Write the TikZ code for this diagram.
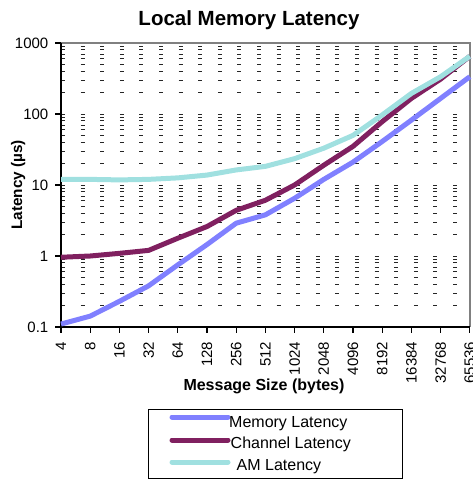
\documentclass[tikz,border=0pt]{standalone}
\usepackage{fontspec}
\setmainfont{Liberation Sans}
\definecolor{memblue}{HTML}{8080FF}
\definecolor{chanred}{HTML}{802060}
\definecolor{amcyan}{HTML}{A0E0E0}
\definecolor{framegray}{HTML}{808080}
\begin{document}
\begin{tikzpicture}[x=1pt,y=-1pt,
  declare function={ly(\v)=256-71*log10(\v); px(\i)=61+29.2*\i;},
  griddash/.style={black!85,line width=1pt,dash pattern=on 4pt off 15.6pt},
  axisline/.style={black,line width=2pt},
  frameline/.style={framegray,line width=2pt},
  tickline/.style={black,line width=1.3pt},
  dataline/.style={line width=5pt,line join=round,line cap=butt},
  ticklab/.style={inner sep=0pt,font=\fontsize{15}{17}\selectfont},
  legtext/.style={inner sep=0pt,anchor=base west,font=\fontsize{16}{18}\selectfont}]
\useasboundingbox (0,0) rectangle (473,479);
% gridlines
\foreach \d in {-1,0,1,2}{
  \foreach \m in {2,...,9}{
    \draw[griddash] (61,{256-71*(\d+log10(\m))}) -- (470,{256-71*(\d+log10(\m))});
  }
}
\foreach \d in {0,1,2}{
  \draw[griddash] (61,{256-71*\d}) -- (470,{256-71*\d});
}
% frame
\draw[frameline] (61,43) -- (470,43) -- (470,327);
\draw[axisline] (61,43) -- (61,327) -- (470,327);
% y ticks and labels
\foreach \lab [count=\k from -1] in {0.1,1,10,100,1000}{
  \draw[tickline] (55,{256-71*\k}) -- (61,{256-71*\k});
  \node[ticklab,anchor=east] (ylab\k) at (48.5,{256-71*\k}) {\lab};
}
% x ticks and labels
\foreach \lab [count=\i from 0] in {4,8,16,32,64,128,256,512,1024,2048,4096,8192,16384,32768,65536}{
  \draw[tickline] ({px(\i)},327) -- ({px(\i)},333);
  \node[ticklab,anchor=east,rotate=90] (xlab\i) at ({px(\i)},341.5) {\lab};
}
% data
\draw[dataline,memblue] ({px(0)},{ly(0.11)})
  \foreach \v [count=\i] in {0.14,0.23,0.38,0.75,1.45,2.9,3.8,6.5,12,21,41,82,166,335}{ -- ({px(\i)},{ly(\v)}) };
\draw[dataline,chanred] ({px(0)},{ly(0.96)})
  \foreach \v [count=\i] in {1.0,1.09,1.2,1.78,2.6,4.4,6.1,10,19,35,78,166,310,650}{ -- ({px(\i)},{ly(\v)}) };
\draw[dataline,amcyan] ({px(0)},{ly(12)})
  \foreach \v [count=\i] in {12,11.8,12,12.6,13.8,16.3,18.3,23.5,33,50,97,195,335,650}{ -- ({px(\i)},{ly(\v)}) };
% titles
\node[inner sep=0pt,anchor=base,font=\fontsize{20.5}{24}\selectfont\bfseries] (title) at (249,25) {Local Memory Latency};
\node[inner sep=0pt,anchor=base,font=\fontsize{16}{19}\selectfont\bfseries] (xtitle) at (264,390) {Message Size (bytes)};
\node[inner sep=0pt,anchor=base,rotate=90,font=\fontsize{15.3}{18}\selectfont\bfseries] (ytitle) at (22,185) {Latency (µs)};
% legend
\draw[black,line width=1pt] (148,409) rectangle (402,478);
\draw[dataline,memblue,line cap=round] (172,417) -- (228,417);
\draw[dataline,chanred,line cap=round] (172,440) -- (228,440);
\draw[dataline,amcyan,line cap=round] (172,462) -- (228,462);
\node[legtext] (leg1) at (229,427) {Memory Latency};
\node[legtext] (leg2) at (230.5,448) {Channel Latency};
\node[legtext] (leg3) at (236.5,470) {AM Latency};
\end{tikzpicture}
\end{document}
